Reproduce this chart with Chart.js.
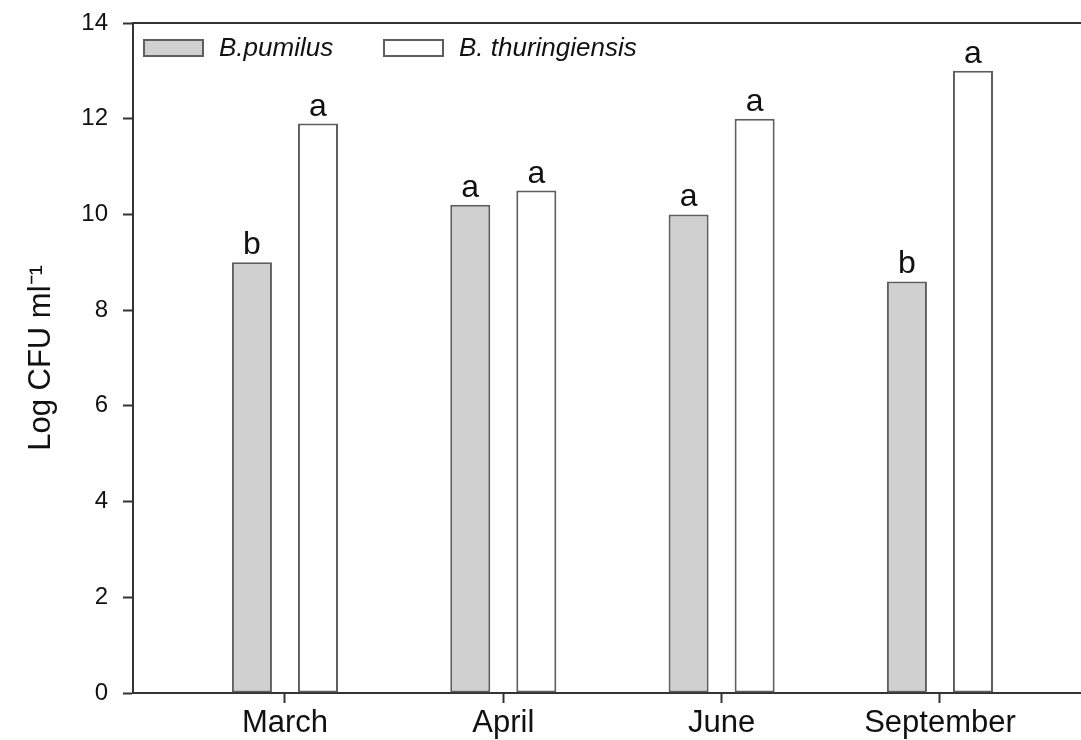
<!DOCTYPE html>
<html>
<head>
<meta charset="utf-8">
<script src="https://cdn.jsdelivr.net/npm/chart.js@4.4.1/dist/chart.umd.min.js"></script>
<style>
  html, body { margin: 0; padding: 0; background: #ffffff; overflow: hidden; }
  canvas { display: block; }
</style>
</head>
<body>
<canvas id="chart" width="1081" height="740"></canvas>
<script>
// Sampling months and log counts for the two Bacillus species
const months = ['March', 'April', 'June', 'September'];
const pumilus = [9.0, 10.2, 10.0, 8.6];
const thuringiensis = [11.9, 10.5, 12.0, 13.0];
// Significance letters printed above each bar
const pumilusLetters = ['b', 'a', 'a', 'b'];
const thuringiensisLetters = ['a', 'a', 'a', 'a'];
const seriesNames = ['B.pumilus', 'B. thuringiensis'];
const yTicks = [0, 2, 4, 6, 8, 10, 12, 14];

const FONT = '"Liberation Sans", Arial, Helvetica, sans-serif';
const INK = '#111111';
const AXIS = '#333333';

// Frame line along the top of the plotting area
const topFrame = {
  id: 'topFrame',
  afterDraw(chart) {
    const { ctx, chartArea } = chart;
    ctx.save();
    ctx.strokeStyle = AXIS;
    ctx.lineWidth = 2;
    ctx.beginPath();
    ctx.moveTo(chartArea.left - 1, chartArea.top);
    ctx.lineTo(chartArea.right, chartArea.top);
    ctx.stroke();
    ctx.restore();
  }
};

// Letters above the bars, placed from each bar element's position
const barLetters = {
  id: 'barLetters',
  afterDatasetsDraw(chart) {
    const { ctx } = chart;
    const sets = [pumilusLetters, thuringiensisLetters];
    ctx.save();
    ctx.fillStyle = INK;
    ctx.font = '32px ' + FONT;
    ctx.textAlign = 'center';
    ctx.textBaseline = 'alphabetic';
    sets.forEach((letters, di) => {
      chart.getDatasetMeta(di).data.forEach((bar, i) => {
        ctx.fillText(letters[i], bar.x, bar.y - 8);
      });
    });
    ctx.restore();
  }
};

// Legend drawn inside the plotting area, top left
const insideLegend = {
  id: 'insideLegend',
  afterDraw(chart) {
    const { ctx, chartArea } = chart;
    const starts = [chartArea.left + 10, chartArea.left + 250];
    const boxW = 61, boxH = 18, top = chartArea.top + 16;
    ctx.save();
    ctx.font = 'italic 26px ' + FONT;
    ctx.textBaseline = 'middle';
    ctx.textAlign = 'left';
    chart.data.datasets.forEach((ds, i) => {
      const x = starts[i];
      ctx.fillStyle = ds.backgroundColor;
      ctx.fillRect(x, top, boxW, boxH);
      ctx.strokeStyle = ds.borderColor;
      ctx.lineWidth = 2;
      ctx.strokeRect(x + 1, top + 1, boxW - 2, boxH - 2);
      ctx.fillStyle = INK;
      ctx.fillText(ds.label, x + boxW + 15, top + boxH / 2 + 1);
    });
    ctx.restore();
  }
};

const barOptions = {
  borderWidth: 2,
  borderSkipped: false,
  categoryPercentage: 0.605,
  barPercentage: 0.606
};

new Chart(document.getElementById('chart'), {
  type: 'bar',
  data: {
    datasets: [
      Object.assign({
        label: seriesNames[0],
        data: pumilus.map((v, i) => ({ x: i + 1, y: v })),
        backgroundColor: '#d0d0d0',
        borderColor: '#5e5e5e'
      }, barOptions),
      Object.assign({
        label: seriesNames[1],
        data: thuringiensis.map((v, i) => ({ x: i + 1, y: v })),
        backgroundColor: '#ffffff',
        borderColor: '#5e5e5e'
      }, barOptions)
    ]
  },
  options: {
    responsive: false,
    animation: false,
    layout: { padding: { top: 23, left: 0, right: 0, bottom: 0 } },
    plugins: {
      legend: { display: false },
      tooltip: { enabled: false }
    },
    scales: {
      x: {
        type: 'linear',
        min: 0.304,
        max: 4.646,
        offset: false,
        afterBuildTicks: (s) => { s.ticks = months.map((m, i) => ({ value: i + 1 })); },
        afterFit: (s) => { s.height = 47; },
        ticks: {
          autoSkip: false,
          maxRotation: 0,
          padding: 2,
          color: INK,
          font: { family: FONT, size: 31 },
          callback: (v) => months[v - 1]
        },
        grid: {
          offset: false,
          drawOnChartArea: false,
          drawTicks: true,
          tickLength: 10,
          tickWidth: 2,
          tickColor: AXIS
        },
        border: { display: true, color: AXIS, width: 2 }
      },
      y: {
        min: 0,
        max: 14,
        afterBuildTicks: (s) => { s.ticks = yTicks.map((v) => ({ value: v })); },
        afterFit: (s) => {
          s.width = 133;
          s.paddingTop = 0;
          s.paddingBottom = 0;
        },
        ticks: {
          padding: 15,
          color: INK,
          font: { family: FONT, size: 24 }
        },
        grid: {
          drawOnChartArea: false,
          drawTicks: true,
          tickLength: 10,
          tickWidth: 2,
          tickColor: AXIS
        },
        border: { display: true, color: AXIS, width: 2 },
        title: {
          display: true,
          text: 'Log CFU ml⁻¹',
          color: INK,
          font: { family: FONT, size: 31 },
          padding: { top: 23, bottom: 0 }
        }
      }
    }
  },
  plugins: [topFrame, barLetters, insideLegend]
});
</script>
</body>
</html>
